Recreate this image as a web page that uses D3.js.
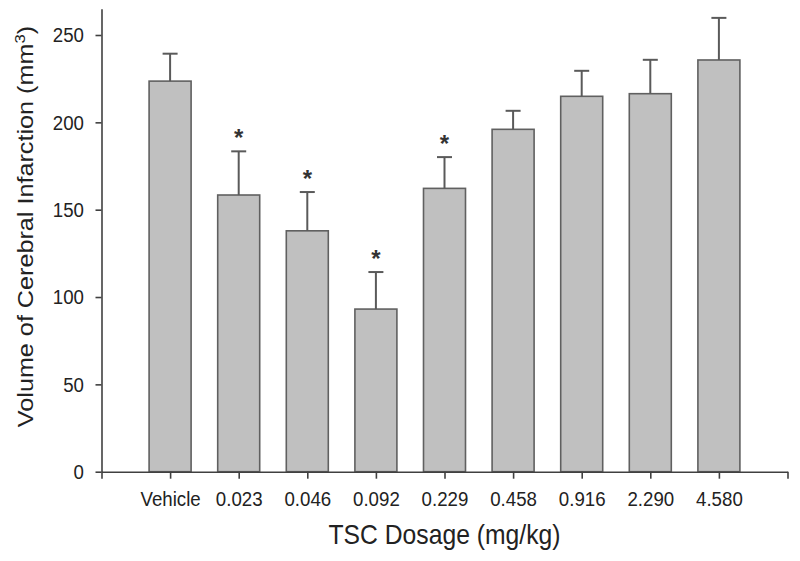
<!DOCTYPE html>
<html>
<head>
<meta charset="utf-8">
<script src="https://cdn.jsdelivr.net/npm/d3@7"></script>
<style>
  body { margin: 0; background: #fff; }
  svg text { font-family: "Liberation Sans", Arial, sans-serif; fill: #222; }
</style>
</head>
<body>
<svg id="chart" width="800" height="561"></svg>
<script>
// categories and values
const dosages = ['Vehicle', '0.023', '0.046', '0.092', '0.229', '0.458', '0.916', '2.290', '4.580'];
const volumes = [223.6, 158.4, 137.9, 93.1, 162.2, 196.0, 214.9, 216.4, 235.7];
const sem = [15.7, 25.0, 22.2, 21.2, 17.9, 10.6, 14.6, 19.4, 24.1];
const significant = [false, true, true, true, true, false, false, false, false];
const yTicks = [0, 50, 100, 150, 200, 250];

const STRETCH = 1.12; // source image is stretched vertically a bit

let svg = d3.select('#chart');

let x = d3.scaleLinear().domain([-1, dosages.length]).range([101.5, 787.5]);
let y = d3.scaleLinear().domain([0, 265]).range([471.7, 8.8]);
let barWidth = 42;

// bars
svg.append('g')
  .selectAll('rect')
  .data(volumes)
  .join('rect')
    .attr('x', (d, i) => x(i) - barWidth / 2)
    .attr('y', d => y(d))
    .attr('width', barWidth)
    .attr('height', d => y(0) - y(d))
    .style('fill', '#c0c0c0')
    .style('stroke', '#606060')
    .style('stroke-width', 1.6);

// error bars (upper only)
let err = svg.append('g')
  .style('stroke', '#5a5a5a')
  .style('stroke-width', 2);

volumes.forEach((v, i) => {
  err.append('line')
    .attr('x1', x(i)).attr('x2', x(i))
    .attr('y1', y(v)).attr('y2', y(v + sem[i]));
  err.append('line')
    .attr('x1', x(i) - 7.5).attr('x2', x(i) + 7.5)
    .attr('y1', y(v + sem[i])).attr('y2', y(v + sem[i]));
});

// significance stars
svg.append('g')
  .selectAll('text')
  .data(volumes.map((v, i) => ({ v: v + sem[i], i: i })).filter(d => significant[d.i]))
  .join('text')
    .attr('x', d => x(d.i))
    .attr('y', d => y(d.v) - 5)
    .attr('text-anchor', 'middle')
    .style('font-size', '24px')
    .style('font-weight', 'bold')
    .style('fill', '#333')
    .text('*');

// y axis
let yAxis = svg.append('g')
  .attr('transform', 'translate(' + x(-1) + ',0)')
  .call(d3.axisLeft(y).tickValues(yTicks).tickSize(6).tickSizeOuter(0));

yAxis.select('.domain').style('stroke', '#404040').style('stroke-width', 1.6);
yAxis.selectAll('.tick line').style('stroke', '#404040').style('stroke-width', 1.6);
yAxis.selectAll('.tick text')
  .attr('x', -17.5)
  .attr('dy', null)
  .attr('y', 0)
  .attr('transform', 'translate(0,6.7) scale(1,' + STRETCH + ')')
  .style('font-size', '18.7px')
  .style('font-family', '"Liberation Sans", Arial, sans-serif')
  .style('fill', '#222');

// x axis
let xTickValues = d3.range(-1, dosages.length + 1);
let xAxis = svg.append('g')
  .attr('transform', 'translate(0,' + y(0) + ')')
  .call(d3.axisBottom(x)
    .tickValues(xTickValues)
    .tickFormat(i => dosages[i] || '')
    .tickSize(7)
    .tickSizeOuter(0));

xAxis.select('.domain').style('stroke', '#404040').style('stroke-width', 1.6);
xAxis.selectAll('.tick line').style('stroke', '#404040').style('stroke-width', 1.6);
xAxis.selectAll('.tick text')
  .attr('y', 0)
  .attr('dy', null)
  .attr('transform', 'translate(0,34.3) scale(1,' + STRETCH + ')')
  .style('font-size', '18.7px')
  .style('font-family', '"Liberation Sans", Arial, sans-serif')
  .style('fill', '#222');

// axis titles
svg.append('text')
  .attr('text-anchor', 'middle')
  .attr('transform', 'translate(' + (x(-1) + x(dosages.length)) / 2 + ',544) scale(1,' + STRETCH + ')')
  .style('font-size', '24.7px')
  .text('TSC Dosage (mg/kg)');

let yTitle = svg.append('text')
  .attr('text-anchor', 'middle')
  .attr('transform', 'translate(33,226.5) rotate(-90) scale(' + STRETCH + ',1)')
  .style('font-size', '22.5px');

yTitle.append('tspan').text('Volume of Cerebral Infarction (mm');
yTitle.append('tspan').attr('dy', -8).style('font-size', '15px').text('3');
yTitle.append('tspan').attr('dy', 8).text(')');
</script>
</body>
</html>
